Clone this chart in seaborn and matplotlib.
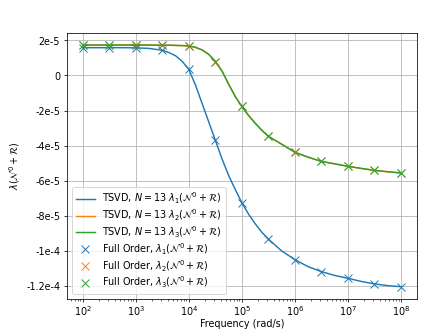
import matplotlib
matplotlib.use('Agg')
import matplotlib.pyplot as plt
import seaborn as sns
import numpy as np

# Puntos "Full Order" (medio decada de 1e2 a 1e8)
freq_full = [1e2, 10**2.5, 1e3, 10**3.5, 1e4, 10**4.5, 1e5, 10**5.5, 1e6, 10**6.5, 1e7, 10**7.5, 1e8]
lam1_full = [1.58e-5, 1.58e-5, 1.57e-5, 1.43e-5, 0.34e-5, -3.7e-5, -7.26e-5, -9.33e-5,
             -10.5e-5, -11.18e-5, -11.56e-5, -11.88e-5, -12.04e-5]
lam2_full = [1.73e-5, 1.73e-5, 1.73e-5, 1.72e-5, 1.68e-5, 0.78e-5, -1.77e-5, -3.48e-5,
             -4.38e-5, -4.9e-5, -5.18e-5, -5.41e-5, -5.56e-5]
lam3_full = lam2_full

freq_tsvd = [1e2, 10**2.25, 10**2.5, 10**2.75, 1e3, 10**3.25, 10**3.5, 10**3.625, 10**3.75,
             10**3.875, 1e4, 10**4.125, 10**4.25, 10**4.375, 10**4.5, 10**4.625, 10**4.75,
             10**4.875, 1e5, 10**5.125, 10**5.25, 10**5.375, 10**5.5, 10**5.75, 1e6,
             10**6.25, 10**6.5, 10**6.75, 1e7, 10**7.25, 10**7.5, 10**7.75, 1e8]
lam1_tsvd = [1.58e-5, 1.58e-5, 1.58e-5, 1.58e-5, 1.57e-5, 1.54e-5, 1.43e-5, 1.30e-5, 1.12e-5,
             0.80e-5, 0.34e-5, -0.55e-5, -1.6e-5, -2.65e-5, -3.7e-5, -4.75e-5, -5.7e-5,
             -6.5e-5, -7.26e-5, -7.9e-5, -8.45e-5, -8.93e-5, -9.33e-5, -10.0e-5, -10.5e-5,
             -10.9e-5, -11.18e-5, -11.4e-5, -11.56e-5, -11.74e-5, -11.88e-5, -11.98e-5, -12.04e-5]
lam2_tsvd = [1.73e-5, 1.73e-5, 1.73e-5, 1.73e-5, 1.73e-5, 1.73e-5, 1.72e-5, 1.72e-5, 1.71e-5,
             1.70e-5, 1.68e-5, 1.6e-5, 1.45e-5, 1.2e-5, 0.8e-5, 0.25e-5, -0.5e-5,
             -1.2e-5, -1.78e-5, -2.28e-5, -2.72e-5, -3.12e-5, -3.47e-5, -3.92e-5, -4.38e-5,
             -4.66e-5, -4.9e-5, -5.04e-5, -5.18e-5, -5.3e-5, -5.41e-5, -5.49e-5, -5.56e-5]
lam3_tsvd = lam2_tsvd

yticks = [2e-5, 0, -2e-5, -4e-5, -6e-5, -8e-5, -1e-4, -1.2e-4]
ytick_labels = ['2e-5', '0', '-2e-5', '-4e-5', '-6e-5', '-8e-5', '-1e-4', '-1.2e-4']

colores = sns.color_palette('tab10')[:3]
lam_name = r'(\mathcal{N}^0+\mathcal{R})'

fig, ax = plt.subplots(figsize=(6.4, 4.8), dpi=443 / 6.4)
fig.subplots_adjust(left=0.151, right=0.941, bottom=0.10, top=0.9)

for i, lam in enumerate([lam1_tsvd, lam2_tsvd, lam3_tsvd]):
    sns.lineplot(x=freq_tsvd, y=lam, ax=ax, color=colores[i], linewidth=1.5,
                 label=r'TSVD, $N=13$ $\lambda_%d%s$' % (i + 1, lam_name))

for i, lam in enumerate([lam1_full, lam2_full, lam3_full]):
    ax.plot(freq_full, lam, linestyle='', marker='x', markersize=8.5, color=colores[i],
            label=r'Full Order, $\lambda_%d%s$' % (i + 1, lam_name))

ax.set_xscale('log')
ax.set_yticks(yticks)
ax.set_yticklabels(ytick_labels)
ax.tick_params(axis='x', pad=2)
ax.grid(True, which='major')
ax.set_xlabel('Frequency (rad/s)', labelpad=1)
ax.set_ylabel(r'$\lambda%s$' % lam_name)
ax.legend(loc='lower left', labelspacing=0.15)

plt.savefig('out.png')
